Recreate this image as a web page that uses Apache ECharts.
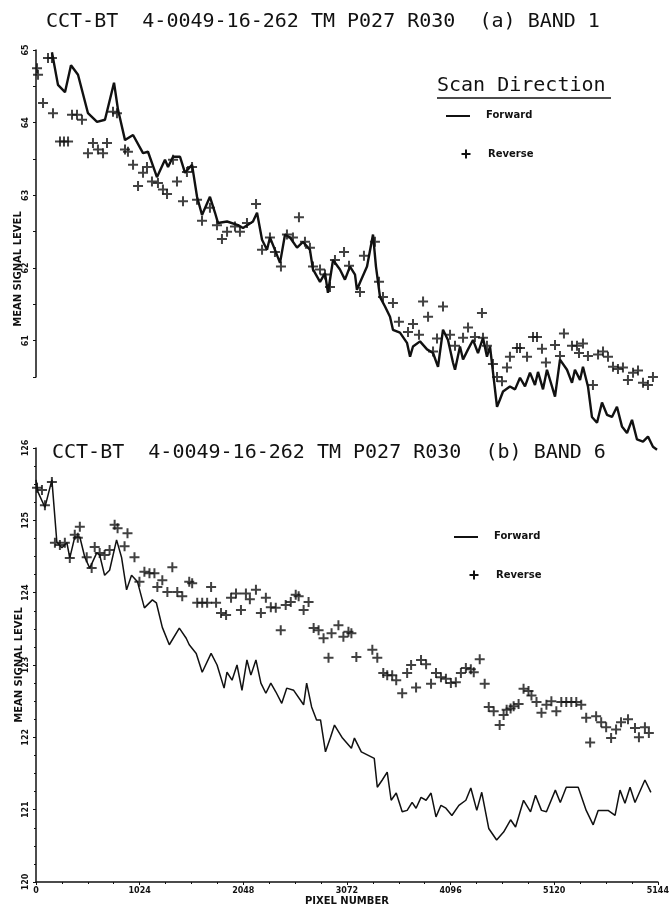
<!DOCTYPE html>
<html>
<head>
<meta charset="utf-8">
<script src="https://cdn.jsdelivr.net/npm/echarts@6/dist/echarts.min.js"></script>
<style>
html, body { margin: 0; padding: 0; background: #fff; }
#main { width: 672px; height: 909px; }
</style>
</head>
<body>
<div id="main"></div>
<script>
// pixel number tick labels (last one printed as 5144 on the original)
const xTickLabels = ['0', '1024', '2048', '3072', '4096', '5120', '5144'];

// (a) band 1 — [pixel number, mean signal level]
const band1Forward = [[157,64.97],[216,64.52],[285,64.42],[344,64.79],[413,64.66],[511,64.13],[600,64.01],[678,64.04],[767,64.55],[806,64.18],[875,63.76],[954,63.83],[1052,63.58],[1101,63.60],[1189,63.25],[1268,63.49],[1298,63.39],[1347,63.53],[1416,63.53],[1465,63.31],[1534,63.42],[1583,62.98],[1632,62.73],[1710,62.98],[1760,62.76],[1789,62.62],[1878,62.64],[1986,62.59],[2035,62.55],[2133,62.64],[2173,62.76],[2222,62.39],[2271,62.25],[2300,62.42],[2349,62.25],[2399,62.07],[2448,62.46],[2497,62.42],[2566,62.28],[2625,62.36],[2693,62.25],[2723,61.98],[2792,61.81],[2841,61.93],[2870,61.66],[2920,62.11],[2988,61.98],[3037,61.84],[3087,62.02],[3136,61.91],[3155,61.70],[3185,61.80],[3254,62.02],[3313,62.46],[3342,62.02],[3382,61.60],[3431,61.47],[3480,61.33],[3509,61.15],[3578,61.11],[3647,60.97],[3677,60.78],[3706,60.92],[3775,60.99],[3844,60.88],[3903,60.83],[3952,60.64],[4001,61.15],[4050,61.01],[4099,60.70],[4119,60.60],[4168,60.92],[4198,60.74],[4247,60.88],[4296,61.01],[4345,60.83],[4394,61.04],[4433,60.78],[4463,60.92],[4532,60.09],[4561,60.19],[4591,60.30],[4659,60.37],[4709,60.33],[4758,60.49],[4807,60.37],[4856,60.56],[4905,60.39],[4935,60.57],[4984,60.33],[5023,60.60],[5072,60.37],[5102,60.23],[5151,60.74],[5220,60.60],[5269,60.42],[5298,60.60],[5348,60.46],[5377,60.64],[5426,60.37],[5465,59.95],[5515,59.87],[5564,60.15],[5613,59.98],[5662,59.95],[5711,60.09],[5760,59.82],[5810,59.73],[5859,59.91],[5908,59.64],[5967,59.61],[6016,59.68],[6065,59.54],[6105,59.50]];

const band1Reverse = [[10,64.75],[20,64.66],[118,64.89],[157,64.89],[69,64.27],[167,64.13],[236,63.74],[275,63.74],[315,63.74],[354,64.11],[403,64.11],[452,64.04],[511,63.58],[560,63.72],[609,63.63],[659,63.58],[698,63.72],[757,64.15],[796,64.13],[875,63.63],[904,63.60],[954,63.42],[1003,63.13],[1052,63.31],[1091,63.39],[1140,63.19],[1199,63.17],[1248,63.08],[1288,63.02],[1347,63.49],[1386,63.19],[1445,62.92],[1484,63.32],[1534,63.39],[1583,62.94],[1632,62.65],[1710,62.83],[1779,62.59],[1828,62.40],[1878,62.50],[1956,62.57],[2005,62.50],[2074,62.62],[2163,62.88],[2222,62.25],[2300,62.42],[2349,62.22],[2408,62.02],[2467,62.46],[2526,62.42],[2585,62.70],[2644,62.36],[2693,62.28],[2723,62.02],[2792,61.98],[2841,61.91],[2890,61.74],[2939,62.11],[3028,62.22],[3077,62.03],[3185,61.67],[3224,62.17],[3332,62.36],[3372,61.81],[3411,61.60],[3509,61.52],[3568,61.26],[3657,61.12],[3706,61.23],[3765,61.08],[3805,61.54],[3854,61.33],[3903,60.85],[3942,61.03],[4001,61.47],[4070,61.08],[4119,60.93],[4198,61.04],[4247,61.18],[4315,61.05],[4384,61.38],[4394,61.04],[4433,60.93],[4492,60.68],[4532,60.50],[4581,60.44],[4630,60.63],[4659,60.78],[4728,60.90],[4758,60.90],[4827,60.78],[4886,61.05],[4925,61.05],[4974,60.89],[5013,60.70],[5102,60.94],[5151,60.79],[5190,61.10],[5269,60.93],[5318,60.93],[5338,60.83],[5377,60.96],[5426,60.79],[5475,60.39],[5525,60.81],[5574,60.85],[5623,60.78],[5672,60.64],[5721,60.61],[5770,60.63],[5819,60.46],[5869,60.56],[5918,60.59],[5967,60.42],[6016,60.39],[6065,60.50]];

// (b) band 6
const band6Forward = [[0,125.56],[20,125.39],[88,125.18],[157,125.56],[206,124.70],[256,124.62],[305,124.69],[334,124.48],[383,124.77],[433,124.77],[482,124.49],[531,124.34],[600,124.55],[629,124.52],[678,124.24],[727,124.31],[796,124.73],[845,124.49],[895,124.04],[944,124.24],[1003,124.15],[1071,123.79],[1150,123.90],[1189,123.86],[1248,123.52],[1317,123.28],[1416,123.51],[1484,123.37],[1514,123.28],[1583,123.16],[1642,122.90],[1730,123.16],[1789,123.00],[1858,122.68],[1887,122.90],[1937,122.79],[1986,123.00],[2035,122.65],[2084,123.07],[2123,122.86],[2173,123.07],[2222,122.75],[2271,122.61],[2320,122.75],[2369,122.63],[2428,122.47],[2477,122.68],[2546,122.65],[2644,122.45],[2674,122.75],[2723,122.42],[2772,122.24],[2811,122.24],[2860,121.80],[2910,122.00],[2949,122.17],[3028,121.99],[3116,121.85],[3146,121.99],[3214,121.80],[3342,121.71],[3372,121.31],[3421,121.41],[3470,121.52],[3509,121.13],[3559,121.23],[3618,120.97],[3667,120.99],[3716,121.10],[3755,121.02],[3804,121.17],[3854,121.13],[3903,121.23],[3952,120.90],[4001,121.06],[4050,121.02],[4109,120.92],[4178,121.06],[4247,121.13],[4296,121.30],[4355,120.99],[4404,121.24],[4473,120.74],[4551,120.58],[4620,120.69],[4689,120.86],[4738,120.76],[4817,121.13],[4886,120.97],[4935,121.20],[4994,120.99],[5043,120.97],[5131,121.27],[5180,121.10],[5239,121.31],[5357,121.31],[5436,120.99],[5505,120.79],[5554,120.99],[5652,120.99],[5721,120.92],[5770,121.27],[5819,121.09],[5869,121.31],[5918,121.10],[6016,121.41],[6075,121.24]];

const band6Reverse = [[10,125.45],[59,125.42],[88,125.21],[157,125.53],[187,124.69],[236,124.66],[285,124.69],[334,124.48],[383,124.80],[413,124.76],[433,124.91],[501,124.49],[550,124.34],[580,124.63],[629,124.55],[678,124.52],[727,124.59],[777,124.94],[806,124.89],[875,124.64],[904,124.82],[973,124.49],[1022,124.15],[1071,124.29],[1121,124.27],[1170,124.27],[1199,124.08],[1248,124.17],[1298,124.01],[1347,124.35],[1396,124.01],[1445,123.95],[1514,124.15],[1543,124.13],[1593,123.86],[1642,123.86],[1691,123.86],[1730,124.08],[1779,123.86],[1828,123.72],[1878,123.69],[1927,123.93],[1976,123.99],[2025,123.76],[2074,123.99],[2113,123.91],[2173,124.04],[2222,123.72],[2271,123.93],[2320,123.80],[2369,123.79],[2418,123.48],[2467,123.83],[2517,123.87],[2566,123.97],[2595,123.95],[2644,123.76],[2693,123.87],[2743,123.51],[2792,123.48],[2841,123.37],[2890,123.10],[2920,123.44],[2988,123.55],[3037,123.39],[3087,123.46],[3116,123.44],[3165,123.11],[3323,123.21],[3372,123.10],[3431,122.89],[3470,122.86],[3519,122.86],[3559,122.79],[3618,122.61],[3667,122.89],[3706,123.00],[3755,122.69],[3804,123.07],[3854,123.01],[3903,122.74],[3952,122.89],[4001,122.83],[4050,122.81],[4099,122.75],[4148,122.76],[4198,122.89],[4247,122.96],[4296,122.94],[4325,122.90],[4384,123.08],[4433,122.74],[4473,122.42],[4522,122.36],[4581,122.17],[4620,122.31],[4650,122.38],[4689,122.40],[4719,122.43],[4768,122.46],[4817,122.67],[4866,122.64],[4895,122.58],[4945,122.49],[4994,122.34],[5043,122.45],[5092,122.50],[5141,122.36],[5190,122.49],[5239,122.49],[5289,122.49],[5338,122.49],[5387,122.45],[5436,122.27],[5475,121.93],[5534,122.29],[5584,122.21],[5633,122.14],[5682,121.99],[5731,122.11],[5780,122.21],[5849,122.25],[5918,122.13],[5957,122.00],[6016,122.14],[6055,122.06]];

const titles = [
    'CCT-BT  4-0049-16-262 TM P027 R030  (a) BAND 1',
    'CCT-BT  4-0049-16-262 TM P027 R030  (b) BAND 6'
];

const plus = 'path://M4,0H6V4H10V6H6V10H4V6H0V4H4Z';
const ink = '#111';
const mono = "'DejaVu Sans Mono', monospace";
const bold = "bold 10px 'DejaVu Sans', sans-serif";

// little "+" drawn as two bars for the legend
function plusMark(cx, cy) {
    return [
        { type: 'rect', shape: { x: cx - 4.5, y: cy - 1, width: 9, height: 2 }, style: { fill: ink } },
        { type: 'rect', shape: { x: cx - 1, y: cy - 4.5, width: 2, height: 9 }, style: { fill: ink } }
    ];
}

function legendItems(x, y) {
    return [
        { type: 'line', shape: { x1: x, y1: y, x2: x + 24, y2: y }, style: { stroke: ink, lineWidth: 2 } },
        { type: 'text', x: x + 40, y: y - 1, style: { text: 'Forward', font: bold, fill: ink, verticalAlign: 'middle' } },
        ...plusMark(x + 20, y + 38),
        { type: 'text', x: x + 42, y: y + 38, style: { text: 'Reverse', font: bold, fill: ink, verticalAlign: 'middle' } }
    ];
}

function axisName(x, y) {
    return {
        type: 'text', x: x, y: y, rotation: Math.PI / 2,
        style: { text: 'MEAN SIGNAL LEVEL', font: "bold 10px 'DejaVu Sans', sans-serif", fill: ink, align: 'center', verticalAlign: 'middle' }
    };
}

let myChart = echarts.init(document.querySelector('#main'));
let option = {
    animation: false,
    backgroundColor: '#fff',
    title: [
        { text: titles[0], left: 46, top: 12, padding: 0, textStyle: { fontFamily: mono, fontSize: 20, fontWeight: 'normal', color: ink } },
        { text: titles[1], left: 52, top: 443, padding: 0, textStyle: { fontFamily: mono, fontSize: 20, fontWeight: 'normal', color: ink } }
    ],
    grid: [
        { left: 36, right: 11, top: 50, height: 327 },
        { left: 36, right: 11, top: 448, height: 434 }
    ],
    xAxis: [
        { gridIndex: 0, type: 'value', min: 0, max: 6144, interval: 1024, show: false },
        {
            gridIndex: 1, type: 'value', min: 0, max: 6144, interval: 1024,
            name: 'PIXEL NUMBER', nameLocation: 'middle', nameGap: 14,
            nameTextStyle: { fontFamily: 'DejaVu Sans', fontWeight: 'bold', fontSize: 10, color: ink },
            splitLine: { show: false },
            axisLine: { lineStyle: { color: ink, width: 1.5 } },
            axisTick: { inside: false, length: 3, lineStyle: { color: ink } },
            minorTick: { show: true, splitNumber: 4, length: 2, lineStyle: { color: ink } },
            axisLabel: {
                margin: 5, fontFamily: 'DejaVu Sans', fontWeight: 'bold', fontSize: 8, color: ink,
                formatter: v => xTickLabels[Math.round(v / 1024)]
            }
        }
    ],
    yAxis: [
        {
            gridIndex: 0, type: 'value', min: 60.5, max: 65, interval: 0.5,
            splitLine: { show: false },
            axisLine: { show: true, lineStyle: { color: ink, width: 1.5 } },
            axisTick: { show: true, length: 3, lineStyle: { color: ink } },
            axisLabel: {
                rotate: 90, margin: 6, fontFamily: 'DejaVu Sans', fontWeight: 'bold', fontSize: 8, color: ink,
                formatter: v => (v % 1 === 0 ? String(v) : '')
            }
        },
        {
            gridIndex: 1, type: 'value', min: 120, max: 126, interval: 1,
            splitLine: { show: false },
            axisLine: { show: true, lineStyle: { color: ink, width: 1.5 } },
            axisTick: { show: true, length: 3, lineStyle: { color: ink } },
            minorTick: { show: true, splitNumber: 4, length: 2, lineStyle: { color: ink } },
            axisLabel: { rotate: 90, margin: 6, fontFamily: 'DejaVu Sans', fontWeight: 'bold', fontSize: 8, color: ink }
        }
    ],
    series: [
        {
            name: 'Forward', type: 'line', xAxisIndex: 0, yAxisIndex: 0, data: band1Forward,
            showSymbol: false, clip: false, lineStyle: { color: ink, width: 2.4 }
        },
        {
            name: 'Reverse', type: 'scatter', xAxisIndex: 0, yAxisIndex: 0, data: band1Reverse,
            symbol: plus, symbolSize: 10, clip: false, itemStyle: { color: ink }
        },
        {
            name: 'Forward', type: 'line', xAxisIndex: 1, yAxisIndex: 1, data: band6Forward,
            showSymbol: false, clip: false, lineStyle: { color: ink, width: 1.5 }
        },
        {
            name: 'Reverse', type: 'scatter', xAxisIndex: 1, yAxisIndex: 1, data: band6Reverse,
            symbol: plus, symbolSize: 10, clip: false, itemStyle: { color: ink }
        }
    ],
    graphic: [
        { type: 'text', x: 437, y: 86, style: { text: 'Scan Direction', font: "20px 'DejaVu Sans Mono', monospace", fill: ink, verticalAlign: 'middle' } },
        { type: 'line', shape: { x1: 437, y1: 98, x2: 611, y2: 98 }, style: { stroke: ink, lineWidth: 1.5 } },
        ...legendItems(446, 116),
        ...legendItems(454, 537),
        axisName(18, 269),
        axisName(19, 665)
    ]
};
myChart.setOption(option);
</script>
</body>
</html>
